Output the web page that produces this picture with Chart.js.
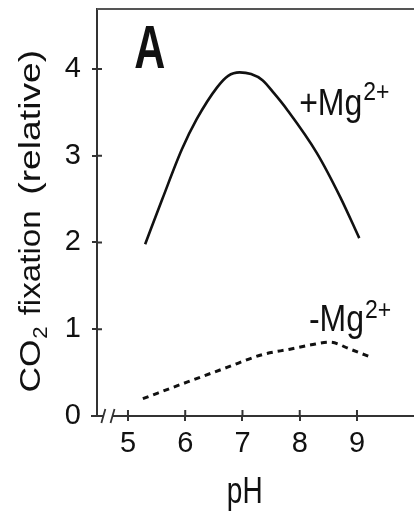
<!DOCTYPE html>
<html>
<head>
<meta charset="utf-8">
<script src="https://cdn.jsdelivr.net/npm/chart.js@4.4.1/dist/chart.umd.min.js"></script>
<style>
  html, body { margin: 0; padding: 0; background: #ffffff; }
  #wrap { width: 414px; height: 513px; position: relative; }
</style>
</head>
<body>
<div id="wrap"><canvas id="c" width="414" height="513"></canvas></div>
<script>
// ---- data ----
const xTicks = [5, 6, 7, 8, 9];
const xTickLabels = ['5', '6', '7', '8', '9'];
const yTicks = [0, 1, 2, 3, 4];
const yTickLabels = ['0', '1', '2', '3', '4'];

const phPlus  = [5.3, 5.6, 5.94, 6.2, 6.56, 6.75, 6.95, 7.15, 7.35, 7.55, 7.78, 8.3, 8.71, 9.04];
const plusMg  = [1.98, 2.5, 3.07, 3.42, 3.79, 3.92, 3.96, 3.94, 3.87, 3.72, 3.53, 3.03, 2.52, 2.05];
const phMinus = [5.26, 6.03, 6.73, 7.36, 7.83, 8.2, 8.53, 8.88, 9.27];
const minusMg = [0.2, 0.39, 0.56, 0.71, 0.77, 0.82, 0.85, 0.77, 0.67];

const xTitle = 'pH';
const yTitleParts = ['CO', '2', 'fixation', '(relative)'];
const panelLabel = 'A';
const seriesLabels = ['+Mg', '-Mg'];
const seriesSup = '2+';

// ---- layout constants ----
const FONT = '"Liberation Sans", Arial, Helvetica, sans-serif';
const INK = '#111';
const AXIS = '#333';
const xMin = 4.459, xMax = 9.996, yMin = 0, yMax = 4.69;
const axisBreak = [4.57, 4.73];
// spans (in y units) occupied by the pieces of the rotated y title
const yTitleSpans = [[0.27, 0.88], [1.16, 2.37], [2.55, 4.22]];

const toPts = (xs, ys) => xs.map((v, i) => ({ x: v, y: ys[i] }));

function stretchedText(ctx, text, x, y, font, sx, sy, align) {
  ctx.save();
  ctx.font = font;
  ctx.textAlign = align || 'left';
  ctx.textBaseline = 'alphabetic';
  ctx.translate(x, y);
  ctx.scale(sx, sy);
  ctx.fillText(text, 0, 0);
  const w = ctx.measureText(text).width * sx;
  ctx.restore();
  return w;
}

function fittedText(ctx, text, x0, x1, baseY, font) {
  ctx.save();
  ctx.font = font;
  const m = ctx.measureText(text).width;
  ctx.restore();
  const sx = (x1 - x0) / m;
  return stretchedText(ctx, text, x0, baseY, font, sx, 1, 'left');
}

const decor = {
  id: 'decor',
  afterDraw(chart) {
    const { ctx, chartArea: ca, scales: { x, y } } = chart;
    ctx.save();
    // top frame line
    ctx.strokeStyle = '#555';
    ctx.lineWidth = 2;
    ctx.beginPath();
    ctx.moveTo(ca.left, ca.top);
    ctx.lineTo(ca.right, ca.top);
    ctx.stroke();
    // x axis with break
    ctx.strokeStyle = AXIS;
    const b0 = x.getPixelForValue(axisBreak[0]);
    const b1 = x.getPixelForValue(axisBreak[1]);
    ctx.beginPath();
    ctx.moveTo(ca.left - 6, ca.bottom);
    ctx.lineTo(b0, ca.bottom);
    ctx.moveTo(b1, ca.bottom);
    ctx.lineTo(ca.right, ca.bottom);
    ctx.stroke();
    ctx.lineWidth = 1.8;
    ctx.beginPath();
    ctx.moveTo(b0 - 2, ca.bottom + 7);
    ctx.lineTo(b0 + 2, ca.bottom - 7);
    ctx.moveTo(b1 - 2, ca.bottom + 7);
    ctx.lineTo(b1 + 2, ca.bottom - 7);
    ctx.stroke();
    // inner halves of the cross ticks
    ctx.lineWidth = 2;
    ctx.beginPath();
    yTicks.forEach(v => {
      if (v === 0) return;
      const py = y.getPixelForValue(v);
      ctx.moveTo(ca.left, py);
      ctx.lineTo(ca.left + 5, py);
    });
    xTicks.forEach(v => {
      const px = x.getPixelForValue(v);
      ctx.moveTo(px, ca.bottom);
      ctx.lineTo(px, ca.bottom - 6);
    });
    ctx.stroke();

    ctx.fillStyle = INK;
    // panel label
    stretchedText(ctx, panelLabel, x.getPixelForValue(5.11), y.getPixelForValue(4.01),
      'bold 43px ' + FONT, 1, 1.42);

    // +Mg2+
    let px = x.getPixelForValue(7.99), py = y.getPixelForValue(3.47);
    let w = stretchedText(ctx, seriesLabels[0], px, py, '32px ' + FONT, 1, 1.15);
    stretchedText(ctx, seriesSup, px + w + 1, py - 15, '23px ' + FONT, 1, 1.1);
    // -Mg2+
    px = x.getPixelForValue(8.16); py = y.getPixelForValue(0.98);
    w = stretchedText(ctx, seriesLabels[1], px, py, '32px ' + FONT, 1, 1.15);
    stretchedText(ctx, seriesSup, px + w + 1, py - 13, '23px ' + FONT, 1, 1.1);

    // x title
    stretchedText(ctx, xTitle, x.getPixelForValue(7.04), ca.bottom + 87,
      '28px ' + FONT, 1, 1.3, 'center');

    // y title (rotated, pieces fitted to their spans)
    ctx.save();
    ctx.translate(40, 0);
    ctx.rotate(-Math.PI / 2);
    const f = '29px ' + FONT;
    const sp = yTitleSpans.map(([a, b]) => [-y.getPixelForValue(a), -y.getPixelForValue(b)]);
    const ww = fittedText(ctx, yTitleParts[0], sp[0][0], sp[0][1], 0, f);
    stretchedText(ctx, yTitleParts[1], sp[0][0] + ww + 1, 7, '20px ' + FONT, 1.1, 1);
    fittedText(ctx, yTitleParts[2], sp[1][0], sp[1][1], 0, f);
    fittedText(ctx, yTitleParts[3], sp[2][0], sp[2][1], 0, f);
    ctx.restore();

    ctx.restore();
  }
};

new Chart(document.getElementById('c'), {
  type: 'line',
  data: {
    datasets: [
      {
        label: '+Mg2+',
        data: toPts(phPlus, plusMg),
        borderColor: INK,
        borderWidth: 2.6,
        pointRadius: 0,
        cubicInterpolationMode: 'monotone',
        fill: false
      },
      {
        label: '-Mg2+',
        data: toPts(phMinus, minusMg),
        borderColor: INK,
        borderWidth: 3,
        borderDash: [6, 5],
        pointRadius: 0,
        cubicInterpolationMode: 'monotone',
        fill: false
      }
    ]
  },
  options: {
    responsive: false,
    animation: false,
    layout: { padding: { top: 9, left: 0, right: 0, bottom: 0 } },
    plugins: { legend: { display: false }, tooltip: { enabled: false } },
    scales: {
      x: {
        type: 'linear',
        min: xMin, max: xMax,
        afterBuildTicks: s => { s.ticks = xTicks.map(v => ({ value: v })); },
        afterFit: s => { s.height = 97; s.paddingLeft = 0; s.paddingRight = 0; },
        border: { display: false },
        grid: { display: true, drawOnChartArea: false, drawTicks: true, tickLength: 5, color: AXIS, lineWidth: 2 },
        ticks: {
          color: INK, font: { family: FONT, size: 29 }, padding: 6, maxRotation: 0,
          callback: v => xTickLabels[xTicks.indexOf(v)] ?? ''
        }
      },
      y: {
        type: 'linear',
        min: yMin, max: yMax,
        afterBuildTicks: s => { s.ticks = yTicks.map(v => ({ value: v })); },
        afterFit: s => { s.width = 97; s.paddingTop = 0; s.paddingBottom = 0; },
        border: { display: true, color: AXIS, width: 2 },
        grid: { display: true, drawOnChartArea: false, drawTicks: true, tickLength: 5, color: AXIS, lineWidth: 2 },
        ticks: {
          color: INK, font: { family: FONT, size: 29 }, padding: 11,
          callback: v => yTickLabels[yTicks.indexOf(v)] ?? ''
        }
      }
    }
  },
  plugins: [decor]
});
</script>
</body>
</html>
